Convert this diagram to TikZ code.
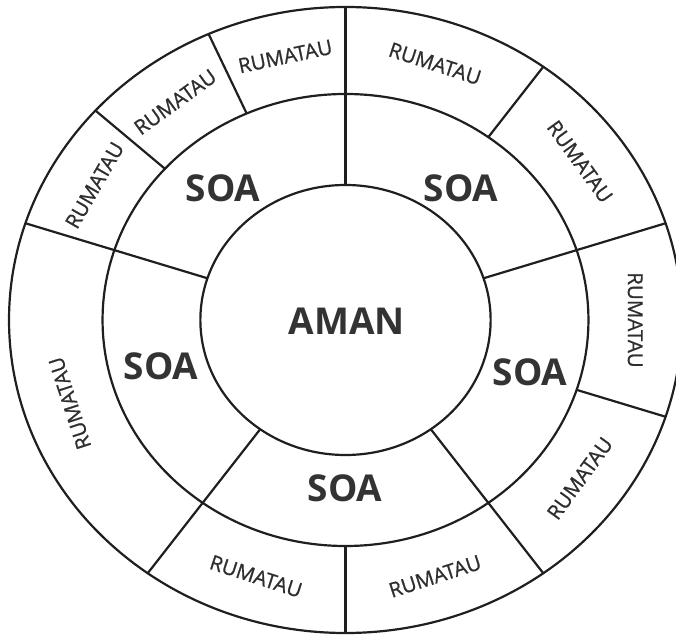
\documentclass[tikz,border=0pt]{standalone}
\usepackage{fontspec}
\setmainfont{Open Sans}
\newfontfamily\rumafont[FakeBold=0.8]{Open Sans}
\begin{document}
\begin{tikzpicture}[x=1pt,y=1pt,
  ring/.style={line width=2.2pt, draw=black!88},
  soa/.style={font=\fontsize{37}{37}\selectfont\bfseries, text=black!80, inner sep=0pt},
  ruma/.style={font=\rumafont\fontsize{20.5}{20.5}\selectfont, text=black!82, inner sep=0pt}]
\useasboundingbox (-345.5,-316) rectangle (330.5,320);
\clip (-345.5,-316) rectangle (330.5,320);
\begin{scope}[xscale=1.075]
  \draw[ring] (0,0) circle (313);
  \draw[ring] (0,0) circle (226);
  \draw[ring] (0,0) circle (135);
  \foreach \a in {90,18,-54,-126,162} \draw[ring] (\a:135) -- (\a:313);
  \foreach \a in {114,138,54,-18,-90} \draw[ring] (\a:226) -- (\a:313);
  \foreach \a/\r [count=\i] in {102/12,126/36,150/60,198/108,-108/-18,-72/18,-36/54,0/-90,36/-54,72/-18}
    \node[ruma, rotate=\r] (r\i) at (\a:269.5) {RUMATAU};
\end{scope}
\node[soa] (aman) at (1.5,-1) {AMAN};
\node[soa] (s1) at (-122.5,132) {SOA};
\node[soa] (s2) at (115.5,132) {SOA};
\node[soa] (s3) at (-184.5,-46) {SOA};
\node[soa] (s4) at (184.5,-52) {SOA};
\node[soa] (s5) at (-0.5,-168) {SOA};
\end{tikzpicture}
\end{document}
